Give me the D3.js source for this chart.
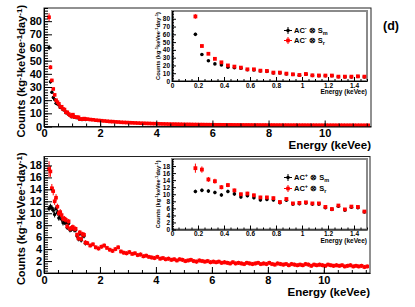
<!DOCTYPE html>
<html>
<head>
<meta charset="utf-8">
<script src="https://cdn.jsdelivr.net/npm/d3@7"></script>
<style>
  body { margin: 0; background: #fff; }
  text { font-family: "Liberation Sans", Arial, sans-serif; font-weight: bold; }
</style>
</head>
<body>
<div id="chart"></div>
<script>
// energy bins (keVee): fine bins shown in the insets, coarse bins for the rest
const lowE = [0.18, 0.23, 0.28, 0.33, 0.38, 0.43, 0.48, 0.53, 0.58, 0.63, 0.68, 0.73, 0.78, 0.83,
  0.88, 0.93, 0.98, 1.03, 1.08, 1.13, 1.18, 1.23, 1.28, 1.33, 1.38, 1.43, 1.48];
const highE = d3.range(101).map((i) => +(1.55 + i * 0.1).toFixed(2));

// top panel (AC-)
const topRedLow = [83, 45, 35, 28.5, 24, 20, 18.5, 17.2, 15, 15, 13.3, 12.9, 10.8, 10.8,
  9.5, 8.6, 7.7, 9, 7.3, 7.1, 7, 7, 5.6, 5.6, 5.6, 6, 5.6];
const topRedErr = [3, 1.6, 1.3, 1.1, 1, 0.9, 0.9, 0.8, 0.8, 0.8, 0.7, 0.7, 0.7, 0.7,
  0.6, 0.6, 0.6, 0.6, 0.6, 0.6, 0.6, 0.6, 0.5, 0.5, 0.5, 0.5, 0.5];
const topBlackLow = [60, 34, 26, 22, 20.5, 17.6, 17, 16.3, 14.4, 14.3, 12.8, 12.4, 10.4, 10.3,
  9.1, 8.3, 7.4, 8.6, 7, 6.8, 6.7, 6.7, 5.4, 5.3, 5.3, 5.7, 5.3];
const topBlackErr = [2, 1.4, 1.2, 1, 1, 0.9, 0.9, 0.8, 0.8, 0.8, 0.7, 0.7, 0.7, 0.7,
  0.6, 0.6, 0.6, 0.6, 0.6, 0.6, 0.6, 0.6, 0.5, 0.5, 0.5, 0.5, 0.5];
const topRedHigh = [
  5.6, 5.3, 5.1, 4.8, 4.6, 4.4, 4.2, 4.0, 3.8, 3.7,
  3.5, 3.4, 3.2, 3.1, 3.0, 2.9, 2.8, 2.7, 2.6, 2.5,
  2.45, 2.35, 2.3, 2.2, 2.15, 2.1, 2.0, 1.95, 1.9, 1.85,
  1.8, 1.8, 1.75, 1.7, 1.65, 1.6, 1.6, 1.55, 1.5, 1.5,
  1.45, 1.45, 1.4, 1.4, 1.35, 1.35, 1.3, 1.32, 1.28, 1.27,
  1.25, 1.26, 1.22, 1.2, 1.21, 1.18, 1.17, 1.18, 1.15, 1.14,
  1.13, 1.14, 1.1, 1.12, 1.09, 1.08, 1.1, 1.06, 1.07, 1.05,
  1.04, 1.06, 1.03, 1.02, 1.04, 1.0, 1.01, 1.02, 0.99, 1.0,
  0.98, 1.0, 0.97, 0.98, 0.96, 0.99, 0.95, 0.97, 0.96, 0.94,
  0.95, 0.96, 0.93, 0.94, 0.95, 0.92, 0.93, 0.94, 0.91, 0.92,
  0.93];
const topErrHigh = 0.25;

// bottom panel (AC+)
const botRedLow = [17.4, 17.0, 14.2, 13.7, 12.0, 12.6, 11.1, 10.0, 10.2, 9.7, 9.1, 9.1, 8.9, 7.8,
  8.65, 7.4, 7.55, 7.7, 7.4, 7.4, 6.4, 5.8, 6.8, 5.7, 6.5, 6.4, 5.1];
const botRedErr = [1.3, 0.9, 0.7, 0.7, 0.6, 0.6, 0.5, 0.5, 0.5, 0.5, 0.45, 0.45, 0.45, 0.45,
  0.4, 0.4, 0.4, 0.4, 0.4, 0.4, 0.4, 0.4, 0.4, 0.4, 0.4, 0.4, 0.4];
const botBlackLow = [10.8, 11.1, 10.9, 10.5, 9.8, 10.8, 10.1, 9.2, 9.6, 9.0, 8.4, 8.5, 8.4, 7.6,
  8.3, 7.2, 7.3, 7.5, 7.2, 7.2, 6.2, 5.7, 6.6, 5.5, 6.3, 6.2, 5.0];
const botBlackErr = [0.5, 0.5, 0.5, 0.5, 0.5, 0.5, 0.5, 0.45, 0.45, 0.45, 0.45, 0.45, 0.45, 0.4,
  0.4, 0.4, 0.4, 0.4, 0.4, 0.4, 0.4, 0.4, 0.4, 0.4, 0.4, 0.4, 0.4];
const botRedHigh = [
  5.0, 4.6, 4.8, 4.3, 4.1, 4.4, 4.6, 4.2, 3.9, 3.7,
  4.0, 4.3, 3.6, 3.4, 3.3, 3.5, 3.2, 3.3, 3.0, 3.1,
  2.8, 2.9, 2.7, 2.6, 2.5, 2.7, 2.4, 2.5, 2.3, 2.4,
  2.2, 2.3, 2.1, 2.3, 2.2, 2.0, 2.1, 2.2, 2.0, 1.9,
  2.1, 2.0, 1.9, 2.0, 1.8, 1.9, 1.8, 1.9, 1.7, 1.8,
  1.7, 1.6, 1.8, 1.6, 1.7, 1.6, 1.5, 1.7, 1.6, 1.5,
  1.6, 1.7, 1.5, 1.6, 1.5, 1.7, 1.5, 1.4, 1.6, 1.5,
  1.4, 1.5, 1.3, 1.5, 1.4, 1.3, 1.4, 1.3, 1.5, 1.4,
  1.2, 1.4, 1.3, 1.4, 1.3, 1.2, 1.4, 1.3, 1.2, 1.3,
  1.2, 1.3, 1.1, 1.2, 1.3, 1.1, 1.2, 1.1, 1.2, 1.0,
  1.1];
const botErrHigh = 0.35;

// tick labels
const mainXTicks = [0, 2, 4, 6, 8, 10];
const topYTicks = [0, 10, 20, 30, 40, 50, 60, 70, 80];
const botYTicks = [0, 2, 4, 6, 8, 10, 12, 14, 16, 18];
const insetXTicks = [0, 0.2, 0.4, 0.6, 0.8, 1, 1.2, 1.4];
const legendSubs = ['m', 'r'];

const W = 415, H = 307;

const svg = d3.select('#chart')
  .append('svg')
  .attr('width', W)
  .attr('height', H)
  .style('background', '#fff');

function makeSeries(vals, errs, hiVals, hiErr) {
  const out = vals.map((v, i) => ({ e: lowE[i], v, err: errs[i] }));
  if (hiVals) hiVals.forEach((v, i) => out.push({ e: highE[i], v, err: hiErr }));
  return out;
}

// text with superscript / subscript pieces: [text, shift]
function richText(sel, parts, small) {
  let cur = 0;
  parts.forEach(([t, s]) => {
    const ts = sel.append('tspan').attr('dy', s - cur).text(t);
    if (s !== 0) ts.attr('font-size', small);
    cur = s;
  });
  return sel;
}

function drawAxes(g, x, y, o) {
  const bottom = y.range()[0];
  const left = x.range()[0];
  const xMinor = d3.range(0, x.domain()[1] + 1e-9, o.xMinorStep);
  const yMinor = d3.range(0, y.domain()[1] + 1e-9, o.yMinorStep);

  const xa = g.append('g').attr('transform', `translate(0,${bottom})`);
  xa.append('g').call(d3.axisBottom(x).tickValues(xMinor).tickSize(-o.xMin).tickSizeOuter(0).tickFormat(''))
    .select('.domain').remove();
  xa.append('g').call(d3.axisBottom(x).tickValues(o.xTicks).tickSize(-o.xMaj).tickSizeOuter(0)
    .tickPadding(o.xPad).tickFormat((d) => d));

  const ya = g.append('g').attr('transform', `translate(${left},0)`);
  ya.append('g').call(d3.axisLeft(y).tickValues(yMinor).tickSize(-o.yMin).tickSizeOuter(0).tickFormat(''))
    .select('.domain').remove();
  ya.append('g').call(d3.axisLeft(y).tickValues(o.yTicks).tickSize(-o.yMaj).tickSizeOuter(0)
    .tickPadding(o.yPad).tickFormat((d) => d));

  g.selectAll('.tick line, .domain').attr('stroke', '#000').attr('stroke-width', 1);
  g.selectAll('g').attr('font-family', null).attr('font-size', null);
  g.selectAll('.tick text')
    .attr('font-size', o.font)
    .attr('font-family', '"Liberation Sans", Arial, sans-serif')
    .attr('font-weight', 'bold')
    .attr('fill', '#000');
}

function drawPoints(g, x, y, pts, color, shape, size) {
  g.append('g').selectAll('line')
    .data(pts)
    .enter()
    .append('line')
    .attr('x1', (d) => x(d.e))
    .attr('x2', (d) => x(d.e))
    .attr('y1', (d) => y(d.v - d.err))
    .attr('y2', (d) => y(d.v + d.err))
    .attr('stroke', color)
    .attr('stroke-width', 1);
  if (shape === 'square') {
    g.append('g').selectAll('rect')
      .data(pts)
      .enter()
      .append('rect')
      .attr('x', (d) => x(d.e) - size / 2)
      .attr('y', (d) => y(d.v) - size / 2)
      .attr('width', size)
      .attr('height', size)
      .attr('fill', color);
  } else {
    g.append('g').selectAll('circle')
      .data(pts)
      .enter()
      .append('circle')
      .attr('cx', (d) => x(d.e))
      .attr('cy', (d) => y(d.v))
      .attr('r', size / 2)
      .attr('fill', color);
  }
}

const countsTitle = [['Counts (kg', 0], ['-1', -3.5], ['keVee', 0], ['-1', -3.5], ['day', 0], ['-1', -3.5], [')', 0]];

const panels = [
  {
    id: 'top', frame: [44, 371, 8, 126.5], yMax: 90, yTicks: topYTicks, yMinorStep: 2, sup: '-',
    red: makeSeries(topRedLow, topRedErr, topRedHigh, topErrHigh),
    black: makeSeries(topBlackLow, topBlackErr),
    inset: [172, 367, 11, 81], insetYMax: 90, insetYTicks: topYTicks, insetMinor: 2,
    legendY: [30.5, 40.5]
  },
  {
    id: 'bot', frame: [44, 370, 156.5, 273], yMax: 19.5, yTicks: botYTicks, yMinorStep: 0.4, sup: '+',
    red: makeSeries(botRedLow, botRedErr, botRedHigh, botErrHigh),
    black: makeSeries(botBlackLow, botBlackErr),
    inset: [172, 367, 159, 229.5], insetYMax: 20, insetYTicks: botYTicks, insetMinor: 0.5,
    legendY: [177.5, 188.5]
  }
];

panels.forEach((p) => {
  const [fx0, fx1, fy0, fy1] = p.frame;
  const x = d3.scaleLinear().domain([0, 11.65]).range([fx0, fx1]);
  const y = d3.scaleLinear().domain([0, p.yMax]).range([fy1, fy0]);

  const g = svg.append('g');
  g.append('clipPath').attr('id', `clip-${p.id}`)
    .append('rect').attr('x', fx0).attr('y', fy0).attr('width', fx1 - fx0).attr('height', fy1 - fy0);

  g.append('rect')
    .attr('x', fx0).attr('y', fy0)
    .attr('width', fx1 - fx0).attr('height', fy1 - fy0)
    .attr('fill', 'none').attr('stroke', '#222').attr('stroke-width', 1);

  const pg = g.append('g').attr('clip-path', `url(#clip-${p.id})`);
  drawPoints(pg, x, y, p.black, '#000', 'circle', 3.4);
  drawPoints(pg, x, y, p.red, '#ff0000', 'square', 3.6);

  drawAxes(g, x, y, {
    xTicks: mainXTicks, xMinorStep: 0.5, yTicks: p.yTicks, yMinorStep: p.yMinorStep,
    xMaj: 6, xMin: 3, yMaj: 8, yMin: 4, font: 11, xPad: 3, yPad: 2
  });

  // axis titles
  g.append('text')
    .attr('x', fx1).attr('y', fy1 + 22.5)
    .attr('text-anchor', 'end')
    .attr('font-size', 11.5)
    .text('Energy (keVee)');
  richText(g.append('text')
    .attr('transform', `translate(25,${(fy0 + fy1) / 2 + 4}) rotate(-90)`)
    .attr('text-anchor', 'middle')
    .attr('font-size', 11), countsTitle, 8);

  // inset
  const [ix0, ix1, iy0, iy1] = p.inset;
  const xi = d3.scaleLinear().domain([0, 1.5]).range([ix0, ix1]);
  const yi = d3.scaleLinear().domain([0, p.insetYMax]).range([iy1, iy0]);
  const ig = svg.append('g');
  ig.append('rect')
    .attr('x', ix0).attr('y', iy0)
    .attr('width', ix1 - ix0).attr('height', iy1 - iy0)
    .attr('fill', '#fff').attr('stroke', '#8a8a8a').attr('stroke-width', 2);

  const inRange = (d) => d.e <= 1.5;
  drawPoints(ig, xi, yi, p.black.filter(inRange), '#000', 'circle', 3.6);
  drawPoints(ig, xi, yi, p.red.filter(inRange), '#ff0000', 'square', 3.8);

  drawAxes(ig, xi, yi, {
    xTicks: insetXTicks, xMinorStep: 0.05, yTicks: p.insetYTicks, yMinorStep: p.insetMinor,
    xMaj: 4, xMin: 2, yMaj: 4, yMin: 2, font: 6.5, xPad: 2, yPad: 2
  });

  ig.append('text')
    .attr('x', ix1).attr('y', iy1 + 13)
    .attr('text-anchor', 'end')
    .attr('font-size', 6.5)
    .text('Energy (keVee)');
  richText(ig.append('text')
    .attr('transform', `translate(160,${(iy0 + iy1) / 2}) rotate(-90)`)
    .attr('text-anchor', 'middle')
    .attr('font-size', 5.6), countsTitle.map(([t, s]) => [t, s * 0.5]), 4.2);

  // legend
  legendSubs.forEach((sub, i) => {
    const ly = p.legendY[i];
    const col = i === 0 ? '#000' : '#ff0000';
    const lg = ig.append('g');
    lg.append('line').attr('x1', 284).attr('x2', 292).attr('y1', ly).attr('y2', ly)
      .attr('stroke', col).attr('stroke-width', 1);
    lg.append('line').attr('x1', 288).attr('x2', 288).attr('y1', ly - 3.5).attr('y2', ly + 3.5)
      .attr('stroke', col).attr('stroke-width', 1);
    if (i === 0) {
      lg.append('circle').attr('cx', 288).attr('cy', ly).attr('r', 1.8).attr('fill', col);
    } else {
      lg.append('rect').attr('x', 286.2).attr('y', ly - 1.8).attr('width', 3.6).attr('height', 3.6).attr('fill', col);
    }
    richText(lg.append('text')
      .attr('x', 294).attr('y', ly + 2.7)
      .attr('font-size', 7.5),
      [['AC', 0], [p.sup, -3], [' \u2297 S', 0], [sub, 2]], 5.5);
  });
});

svg.append('text')
  .attr('x', 383).attr('y', 30)
  .attr('font-family', '"Liberation Serif", "Times New Roman", serif')
  .attr('font-size', 12.5)
  .text('(d)');
</script>
</body>
</html>
